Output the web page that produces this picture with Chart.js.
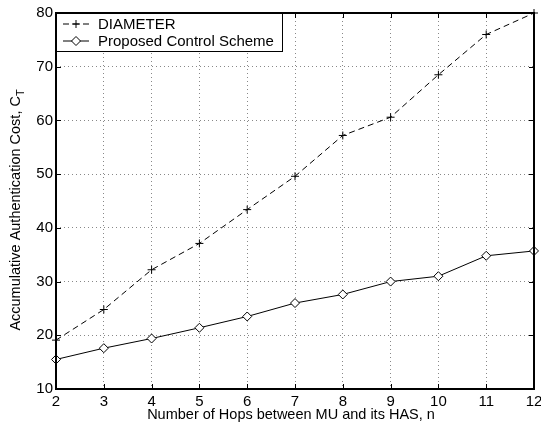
<!DOCTYPE html>
<html>
<head>
<meta charset="utf-8">
<script src="https://cdn.jsdelivr.net/npm/chart.js@4"></script>
<style>
html,body{margin:0;padding:0;background:#fff;}
#wrap{width:541px;height:428px;position:relative;}
</style>
</head>
<body>
<div id="wrap"><canvas id="c" width="541" height="428"></canvas></div>
<script>
// ---- data ----
const nHops = [2, 3, 4, 5, 6, 7, 8, 9, 10, 11, 12];
const diameterCost = [19.1, 24.8, 32.2, 37.1, 43.4, 49.6, 57.2, 60.6, 68.5, 76.0, 80.0];
const proposedCost = [15.5, 17.6, 19.4, 21.4, 23.5, 26.0, 27.6, 30.0, 31.0, 34.8, 35.7];
const xTickValues = [2, 3, 4, 5, 6, 7, 8, 9, 10, 11, 12];
const yTickValues = [10, 20, 30, 40, 50, 60, 70, 80];
const seriesNames = ['DIAMETER', 'Proposed Control Scheme'];
const xTitle = 'Number of Hops between MU and its HAS, n';
const yTitleMain = 'Accumulative Authentication Cost, C';
const yTitleSub = 'T';

const FONT = '"Liberation Sans", Arial, Helvetica, sans-serif';
const FS = 15;
const TFS = 14.5;

const framePlugin = {
  id: 'frame',
  afterDatasetsDraw(chart) {
    const ctx = chart.ctx;
    const a = chart.chartArea;
    const xs = chart.scales.x, ys = chart.scales.y;
    ctx.save();
    ctx.strokeStyle = '#000';
    ctx.lineWidth = 1;
    ctx.setLineDash([]);
    const TL = 5;
    xTickValues.forEach(v => {
      const px = Math.round(xs.getPixelForValue(v)) + 0.5;
      ctx.beginPath();
      ctx.moveTo(px, a.bottom); ctx.lineTo(px, a.bottom - TL);
      ctx.moveTo(px, a.top); ctx.lineTo(px, a.top + TL);
      ctx.stroke();
    });
    yTickValues.forEach(v => {
      const py = Math.round(ys.getPixelForValue(v)) + 0.5;
      ctx.beginPath();
      ctx.moveTo(a.left, py); ctx.lineTo(a.left + TL, py);
      ctx.moveTo(a.right, py); ctx.lineTo(a.right - TL, py);
      ctx.stroke();
    });
    // legend box
    const lx = a.left, ly = a.top, lw = 226, lh = 38;
    ctx.fillStyle = '#fff';
    ctx.fillRect(lx, ly, lw, lh);
    ctx.lineWidth = 1;
    ctx.strokeRect(lx + 0.5, ly + 0.5, lw, lh);
    const rows = [ly + 11, ly + 28];
    chart.data.datasets.forEach((ds, i) => {
      const y = rows[i];
      ctx.save();
      ctx.strokeStyle = '#000';
      ctx.lineWidth = 1;
      ctx.setLineDash(ds.borderDash || []);
      ctx.beginPath();
      ctx.moveTo(lx + 7, y); ctx.lineTo(lx + 33, y);
      ctx.stroke();
      ctx.setLineDash([]);
      const mx = lx + 20;
      if (ds.pointStyle === 'cross') {
        ctx.beginPath();
        ctx.moveTo(mx - 4, y); ctx.lineTo(mx + 4, y);
        ctx.moveTo(mx, y - 4); ctx.lineTo(mx, y + 4);
        ctx.stroke();
      } else {
        const r = 4.5;
        ctx.beginPath();
        ctx.moveTo(mx, y - r); ctx.lineTo(mx + r, y); ctx.lineTo(mx, y + r); ctx.lineTo(mx - r, y); ctx.closePath();
        ctx.fillStyle = '#fff'; ctx.fill(); ctx.stroke();
      }
      ctx.restore();
      ctx.fillStyle = '#000';
      ctx.font = FS + 'px ' + FONT;
      ctx.textAlign = 'left';
      ctx.textBaseline = 'middle';
      ctx.fillText(ds.label, lx + 42, y + 1);
    });
    // frame
    ctx.lineWidth = 2;
    ctx.strokeRect(a.left, a.top, a.right - a.left, a.bottom - a.top);
    ctx.restore();
  },
  afterDraw(chart) {
    const ctx = chart.ctx;
    const a = chart.chartArea;
    ctx.save();
    ctx.fillStyle = '#000';
    ctx.font = TFS + 'px ' + FONT;
    ctx.textBaseline = 'middle';
    ctx.textAlign = 'center';
    ctx.fillText(xTitle, 291, 415);
    // y title rotated, with subscript
    ctx.translate(16, 210);
    ctx.rotate(-Math.PI / 2);
    const mainW = ctx.measureText(yTitleMain).width;
    ctx.font = Math.round(TFS * 0.75) + 'px ' + FONT;
    const subW = ctx.measureText(yTitleSub).width;
    const total = mainW + subW;
    ctx.font = TFS + 'px ' + FONT;
    ctx.textAlign = 'left';
    ctx.fillText(yTitleMain, -total / 2, 0);
    ctx.font = Math.round(TFS * 0.75) + 'px ' + FONT;
    ctx.fillText(yTitleSub, -total / 2 + mainW, 5);
    ctx.restore();
  }
};

new Chart(document.getElementById('c'), {
  type: 'line',
  data: {
    datasets: [
      {
        label: seriesNames[0],
        data: nHops.map((n, i) => ({ x: n, y: diameterCost[i] })),
        borderColor: '#000',
        backgroundColor: '#000',
        borderWidth: 1,
        borderDash: [6, 4],
        pointStyle: 'cross',
        pointRadius: 4,
        pointBorderWidth: 1,
        pointBorderColor: '#000',
        fill: false,
        tension: 0,
        clip: false
      },
      {
        label: seriesNames[1],
        data: nHops.map((n, i) => ({ x: n, y: proposedCost[i] })),
        borderColor: '#000',
        backgroundColor: '#fff',
        borderWidth: 1,
        pointStyle: 'rectRot',
        pointRadius: 4.5,
        pointBorderWidth: 1,
        pointBorderColor: '#000',
        pointBackgroundColor: '#fff',
        fill: false,
        tension: 0,
        clip: false
      }
    ]
  },
  options: {
    responsive: false,
    animation: false,
    devicePixelRatio: 1,
    layout: { padding: { left: 0, top: 13, right: 7, bottom: 0 } },
    plugins: { legend: { display: false }, tooltip: { enabled: false } },
    scales: {
      x: {
        type: 'linear',
        min: 2, max: 12,
        afterBuildTicks: s => { s.ticks = xTickValues.map(v => ({ value: v })); },
        afterFit: s => { s.height = 39; s.paddingLeft = 0; s.paddingRight = 0; },
        ticks: { color: '#000', font: { family: FONT, size: FS }, padding: 4, maxRotation: 0, autoSkip: false },
        grid: { color: '#888', lineWidth: 1, drawTicks: false },
        border: { display: false, dash: [1, 3] }
      },
      y: {
        type: 'linear',
        min: 10, max: 80,
        afterBuildTicks: s => { s.ticks = yTickValues.map(v => ({ value: v })); },
        afterFit: s => { s.width = 56; s.paddingTop = 0; s.paddingBottom = 0; },
        ticks: { color: '#000', font: { family: FONT, size: FS }, padding: 3 },
        grid: { color: '#888', lineWidth: 1, drawTicks: false },
        border: { display: false, dash: [1, 3] }
      }
    }
  },
  plugins: [framePlugin]
});
</script>
</body>
</html>
